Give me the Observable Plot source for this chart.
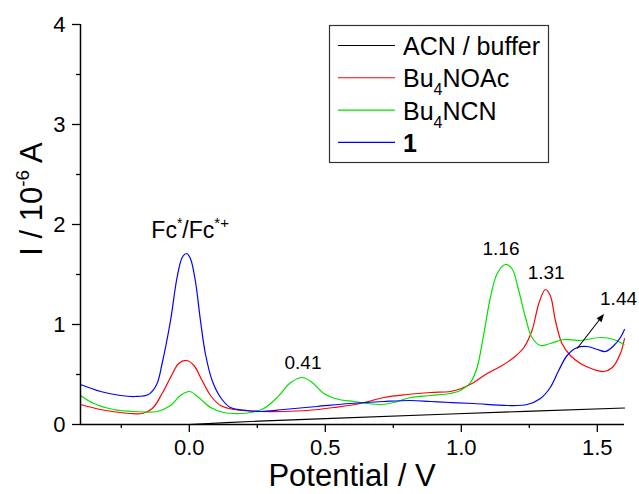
<!DOCTYPE html>
<html><head><meta charset="utf-8">
<script src="https://cdn.jsdelivr.net/npm/d3@7"></script>
<script src="https://cdn.jsdelivr.net/npm/@observablehq/plot@0.6"></script>
<style>
html,body{margin:0;padding:0;background:#fff;}
#chart{width:639px;height:494px;}
</style></head><body><div id="chart"></div>
<script>
const xDomain = [-0.4, 1.6];
const yDomain = [0, 4];
const xMajor = [0, 0.5, 1.0, 1.5];
const xMinor = [-0.25, 0.25, 0.75, 1.25];
const yMajor = [0, 1, 2, 3, 4];
const yMinor = [0.5, 1.5, 2.5, 3.5];

const seriesNames = ["ACN / buffer", "Bu4NOAc", "Bu4NCN", "1"];
const seriesColors = ["#000000", "#ff0000", "#00e000", "#0000ff"];

const acnE = [0.0, 0.225, 0.5, 0.96, 1.6];
const acnI = [0.0, 0.03, 0.058, 0.105, 0.165];

const oacE = [-0.4, -0.326, -0.253, -0.216, -0.173, -0.136, -0.1, -0.069, -0.039, -0.01, 0.017, 0.047, 0.078, 0.115, 0.164, 0.262, 0.347, 0.433, 0.531, 0.629, 0.715, 0.80, 0.887, 0.96, 1.0, 1.046, 1.095, 1.144, 1.193, 1.23, 1.26, 1.285, 1.309, 1.327, 1.346, 1.37, 1.401, 1.438, 1.487, 1.524, 1.555, 1.585, 1.6];
const oacI = [0.20, 0.15, 0.12, 0.11, 0.11, 0.16, 0.31, 0.47, 0.61, 0.64, 0.59, 0.44, 0.29, 0.19, 0.15, 0.13, 0.13, 0.14, 0.17, 0.21, 0.27, 0.30, 0.32, 0.33, 0.36, 0.42, 0.51, 0.58, 0.67, 0.77, 0.94, 1.21, 1.35, 1.29, 1.04, 0.81, 0.69, 0.61, 0.55, 0.53, 0.57, 0.71, 0.86];

const cnE = [-0.4, -0.351, -0.278, -0.204, -0.118, -0.069, -0.033, 0.001, 0.035, 0.078, 0.127, 0.188, 0.225, 0.274, 0.323, 0.373, 0.415, 0.452, 0.495, 0.55, 0.605, 0.654, 0.703, 0.752, 0.813, 0.887, 0.96, 0.997, 1.034, 1.058, 1.083, 1.107, 1.132, 1.162, 1.186, 1.211, 1.236, 1.26, 1.291, 1.327, 1.377, 1.438, 1.512, 1.561, 1.598];
const cnI = [0.29, 0.21, 0.15, 0.13, 0.13, 0.19, 0.29, 0.33, 0.27, 0.17, 0.12, 0.11, 0.12, 0.16, 0.27, 0.42, 0.47, 0.42, 0.31, 0.25, 0.23, 0.21, 0.20, 0.22, 0.27, 0.29, 0.31, 0.34, 0.42, 0.57, 0.91, 1.27, 1.51, 1.60, 1.56, 1.34, 1.07, 0.87, 0.79, 0.81, 0.85, 0.84, 0.87, 0.85, 0.80];

const cmpE = [-0.4, -0.326, -0.253, -0.2, -0.15, -0.12, -0.1, -0.069, -0.045, -0.026, -0.01, 0.004, 0.022, 0.041, 0.059, 0.084, 0.115, 0.151, 0.213, 0.262, 0.347, 0.47, 0.593, 0.715, 0.813, 0.887, 0.96, 1.046, 1.169, 1.242, 1.291, 1.327, 1.358, 1.389, 1.426, 1.463, 1.5, 1.53, 1.561, 1.585, 1.6];
const cmpI = [0.40, 0.33, 0.29, 0.28, 0.30, 0.40, 0.61, 1.04, 1.47, 1.67, 1.71, 1.66, 1.44, 1.04, 0.71, 0.44, 0.27, 0.17, 0.14, 0.13, 0.15, 0.18, 0.21, 0.23, 0.24, 0.23, 0.22, 0.21, 0.19, 0.20, 0.26, 0.37, 0.54, 0.69, 0.77, 0.78, 0.75, 0.73, 0.79, 0.87, 0.95];

const peakLabels = ["0.41", "1.16", "1.31", "1.44"];
const peakLabelE = [0.418, 1.146, 1.312, 1.578];
const peakLabelI = [0.62, 1.76, 1.52, 1.26];
const refLabel = ["Fc*/Fc*+"];
const refLabelE = [0.003];
const refLabelI = [1.94];
const arrowE1 = [1.426], arrowI1 = [0.76], arrowE2 = [1.52], arrowI2 = [1.09];

const seriesE = [acnE, oacE, cnE, cmpE];
const seriesI = [acnI, oacI, cnI, cmpI];
const rows = [];
seriesNames.forEach((s, k) => seriesE[k].forEach((e, i) => rows.push({E: e, I: seriesI[k][i], s})));

const FONT = "Liberation Sans, Arial, sans-serif";

const chart = Plot.plot({
  width: 639, height: 494,
  marginLeft: 80, marginRight: 15, marginTop: 24, marginBottom: 70,
  style: {fontFamily: FONT, fontSize: "22px", color: "black", background: "white", overflow: "visible"},
  x: {domain: xDomain},
  y: {domain: yDomain},
  color: {domain: seriesNames, range: seriesColors},
  marks: [
    Plot.line(rows, {x: "E", y: "I", z: "s", stroke: "s", strokeWidth: 1.2, curve: "catmull-rom"}),
    Plot.ruleY(yDomain.slice(0, 1), {stroke: "black", strokeWidth: 1.5}),
    Plot.ruleX(xDomain.slice(0, 1), {stroke: "black", strokeWidth: 1.5}),
    Plot.axisX(xMajor, {tickSize: 8, tickPadding: 7, tickFormat: d => d.toFixed(1), label: null, strokeWidth: 1.3, fontSize: 22, fontFamily: FONT}),
    Plot.axisX(xMinor, {tickSize: 4, tickFormat: () => "", label: null, strokeWidth: 1.3}),
    Plot.axisY(yMajor, {tickSize: 8, tickPadding: 7, tickFormat: d => String(d), label: null, strokeWidth: 1.3, fontSize: 22, fontFamily: FONT}),
    Plot.axisY(yMinor, {tickSize: 4, tickFormat: () => "", label: null, strokeWidth: 1.3}),
    Plot.text(peakLabels, {x: (d, i) => peakLabelE[i], y: (d, i) => peakLabelI[i], text: d => d, fontSize: 19, fontFamily: FONT, fill: "black"}),
    Plot.text(refLabel, {x: (d, i) => refLabelE[i], y: (d, i) => refLabelI[i], text: d => d, fontSize: 23, fontFamily: FONT, fill: "black"}),
    Plot.link(arrowE1, {x1: (d, i) => arrowE1[i], y1: (d, i) => arrowI1[i], x2: (d, i) => arrowE2[i], y2: (d, i) => arrowI2[i], stroke: "black", strokeWidth: 1.1, markerEnd: "arrow"})
  ]
});
document.getElementById("chart").appendChild(chart);

const svg = d3.select(chart);

// tick label font
svg.selectAll('g[aria-label$="tick label"]').attr("font-size", 22).attr("font-family", FONT)
  .selectAll("text").attr("font-size", 22);

// filled arrow head
svg.selectAll("marker").each(function () {
  const m = d3.select(this);
  m.attr("viewBox", "-8 -5 12 10").attr("markerWidth", 11).attr("markerHeight", 9)
   .attr("fill", "black").attr("stroke", "none");
  m.selectAll("path").attr("d", "M-6,-3.2L2,0L-6,3.2Z");
});

// rich text for Fc*/Fc*+
svg.selectAll("text").filter(function () { return this.textContent === "Fc*/Fc*+"; }).each(function () {
  const t = d3.select(this);
  t.text(null);
  t.append("tspan").text("Fc");
  t.append("tspan").attr("font-size", 14).attr("dy", -10).text("*");
  t.append("tspan").attr("dy", 10).text("/Fc");
  t.append("tspan").attr("font-size", 15).attr("dy", -10).text("*+");
});

// axis titles
svg.append("text").attr("x", 352).attr("y", 486).attr("text-anchor", "middle")
  .attr("font-size", 31).attr("font-family", FONT).attr("fill", "black").text("Potential / V");
const yt = svg.append("text").attr("transform", "translate(42,199) rotate(-90)").attr("text-anchor", "middle")
  .attr("font-size", 31).attr("font-family", FONT).attr("fill", "black");
yt.append("tspan").text("I / 10");
yt.append("tspan").attr("font-size", 19).attr("dy", -13).text("-6");
yt.append("tspan").attr("dy", 13).text(" A");

// legend
const lg = svg.append("g").attr("font-family", FONT).attr("font-size", 25).attr("fill", "black").attr("text-anchor", "start");
lg.append("rect").attr("x", 329.5).attr("y", 25.5).attr("width", 219).attr("height", 137)
  .attr("fill", "white").attr("stroke", "#333").attr("stroke-width", 1.2);
const legendY0 = 55, legendDY = 32.3;
seriesNames.forEach((name, i) => {
  const by = legendY0 + i * legendDY;
  lg.append("line").attr("x1", 338).attr("x2", 395).attr("y1", by - 9.5).attr("y2", by - 9.5)
    .attr("stroke", seriesColors[i]).attr("stroke-width", 1.1);
  const t = lg.append("text").attr("x", 403).attr("y", by).attr("text-anchor", "start");
  if (name.startsWith("Bu4")) {
    t.append("tspan").text("Bu");
    t.append("tspan").attr("font-size", 16).attr("dy", 8).text("4");
    t.append("tspan").attr("dy", -8).text(name.slice(3));
  } else if (name === "1") {
    t.attr("font-weight", "bold").text(name);
  } else {
    t.text(name);
  }
});
</script></body></html>
